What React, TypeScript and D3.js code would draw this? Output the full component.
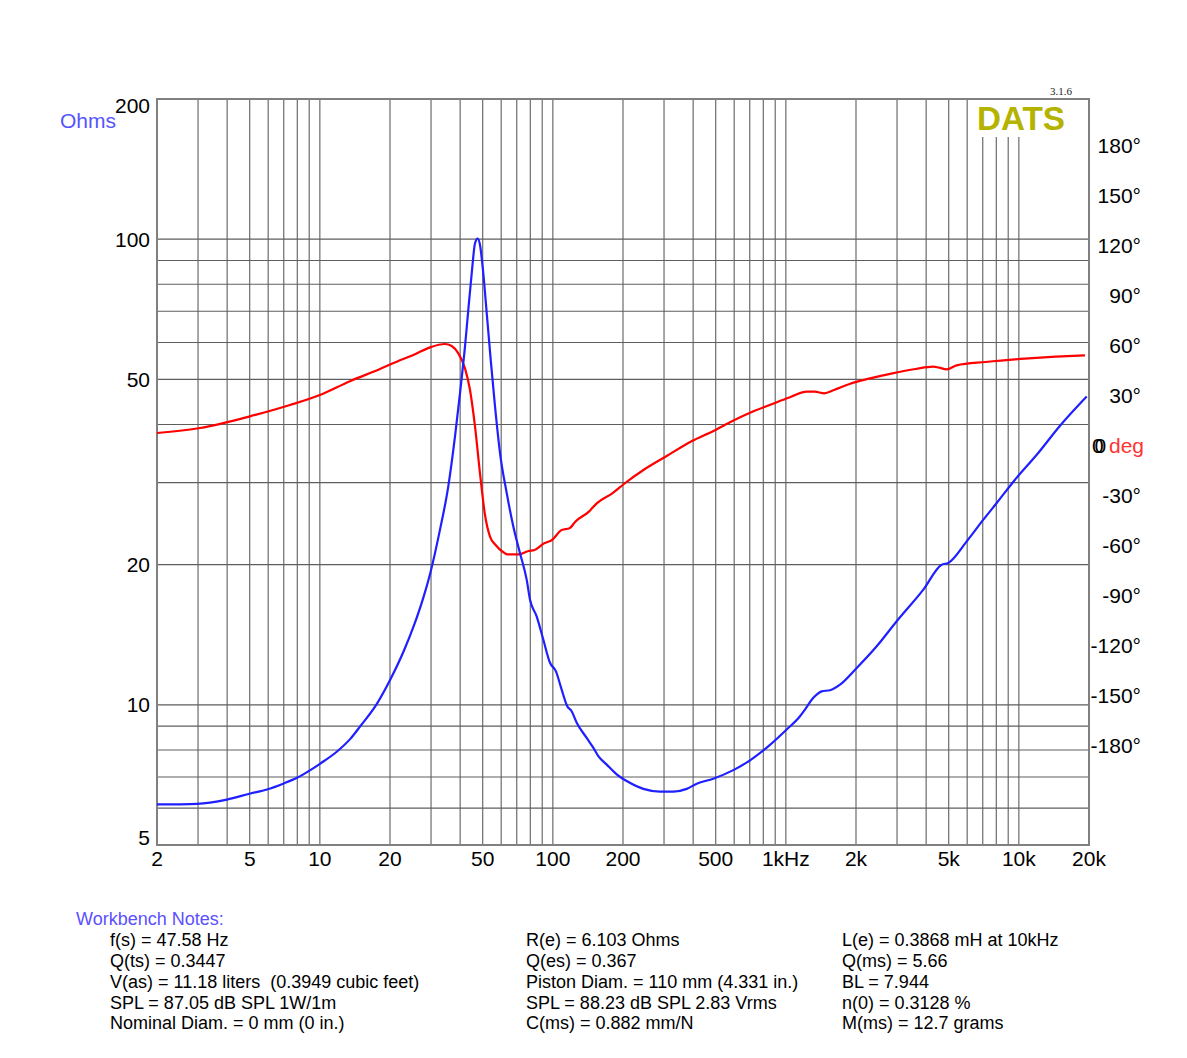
import React from 'react';
import * as d3 from 'd3';

// Impedance magnitude (Ohms) vs frequency (Hz)
const impFreq = [2, 2.97, 3.99, 5.03, 5.93, 7.0, 7.98, 9.1, 10.04, 11.85, 13.51, 14.92, 17.59, 20.06, 22.89, 25.27, 27.91, 29.79, 32.78, 35.58, 38.02, 39.95, 41.97, 43.36, 44.85, 46.34, 47.58, 48.67, 50.28, 52.02, 54.11, 56.46, 59.32, 63.38, 67.65, 72.25, 77.2, 79.76, 85.2, 90.97, 97.2, 103.1, 109.1, 115.3, 120.4, 126.6, 139.7, 149.1, 156.7, 170.3, 187.9, 207.5, 244.5, 288.4, 328.8, 375.4, 414.4, 488.1, 595, 701.8, 827.8, 1008, 1150, 1208, 1312, 1425, 1547, 1708, 2014, 2454, 2990, 3890, 4665, 4980, 5973, 7038, 8033, 9626, 11930, 15020, 19550];
const impOhms = [6.11, 6.13, 6.26, 6.45, 6.58, 6.78, 6.97, 7.24, 7.48, 7.94, 8.45, 9.0, 10.06, 11.33, 13.03, 14.75, 17.1, 19.2, 23.78, 29.45, 37.71, 46.72, 58.84, 70.5, 84.5, 98.0, 100.3, 97.2, 84.5, 69.4, 55.07, 43.73, 34.73, 28.5, 24.16, 21.19, 18.57, 16.83, 15.49, 13.81, 12.31, 11.8, 10.78, 9.93, 9.69, 9.15, 8.49, 8.09, 7.76, 7.44, 7.09, 6.86, 6.6, 6.51, 6.51, 6.6, 6.77, 6.94, 7.24, 7.6, 8.09, 8.85, 9.45, 9.77, 10.35, 10.69, 10.75, 11.05, 12.0, 13.36, 15.12, 17.68, 20.0, 20.17, 22.44, 24.98, 27.13, 30.44, 34.43, 39.76, 45.94];

// Impedance phase (degrees) vs frequency (Hz)
const phaseFreq = [2, 3.06, 5.01, 7.44, 10.0, 13.47, 18.12, 21.37, 25.18, 29.7, 34.44, 36.8, 39.29, 41.97, 44.1, 46.34, 48.67, 51.15, 53.74, 56.8, 61.1, 63.7, 71.5, 78.7, 83.4, 91.8, 99.2, 109.1, 117.9, 124.8, 142.8, 154.2, 179.9, 201.8, 244.7, 308.1, 395.6, 488.6, 592.6, 717.9, 904.5, 1054, 1230, 1329, 1462, 1609, 1877, 2274, 2866, 3609, 4290, 4543, 4906, 5406, 7207, 10584, 14406, 19220];
const phaseDeg = [7.2, 10.2, 17.2, 24, 30, 38.3, 45.6, 50, 54, 58.6, 60.6, 59.4, 55, 46, 33, 11, -17, -42, -55, -60, -64.2, -65.6, -65.6, -63.6, -63, -59, -57, -51, -50, -46, -40, -35, -29, -23.4, -15, -6.6, 2.4, 8.4, 14.6, 20, 25.4, 29, 32, 32, 31, 33, 36.6, 39.8, 43, 45.6, 47, 46.4, 45.4, 47.8, 49.8, 51.8, 53, 53.8];

const xTickValues = [2, 5, 10, 20, 50, 100, 200, 500, 1000, 2000, 5000, 10000, 20000];
const xTickLabels = ['2', '5', '10', '20', '50', '100', '200', '500', '1kHz', '2k', '5k', '10k', '20k'];
const ohmTicks = [200, 100, 50, 20, 10, 5];
const ohmGrid = [6, 7, 8, 9, 10, 20, 30, 40, 50, 60, 70, 80, 90, 100];
const phaseTicks = [180, 150, 120, 90, 60, 30, -30, -60, -90, -120, -150, -180];

const notesCol1 = ['f(s) = 47.58 Hz', 'Q(ts) = 0.3447', 'V(as) = 11.18 liters  (0.3949 cubic feet)', 'SPL = 87.05 dB SPL 1W/1m', 'Nominal Diam. = 0 mm (0 in.)'];
const notesCol2 = ['R(e) = 6.103 Ohms', 'Q(es) = 0.367', 'Piston Diam. = 110 mm (4.331 in.)', 'SPL = 88.23 dB SPL 2.83 Vrms', 'C(ms) = 0.882 mm/N'];
const notesCol3 = ['L(e) = 0.3868 mH at 10kHz', 'Q(ms) = 5.66', 'BL = 7.944', 'n(0) = 0.3128 %', 'M(ms) = 12.7 grams'];

const W = 1187;
const H = 1058;
const left = 157, right = 1089, top = 99, bottom = 845;
const FONT = '"Liberation Sans", Arial, sans-serif';

export default function App() {
  const x = d3.scaleLog().domain([2, 20000]).range([left, right]);
  const y = d3.scaleLog().domain([5, 200]).range([bottom, top]);
  const yp = d3.scaleLinear().domain([-240, 207.6]).range([bottom, top]);

  const vGrid: number[] = [];
  [1, 10, 100, 1000, 10000].forEach((dec) => {
    for (let m = 1; m <= 9; m++) {
      const v = dec * m;
      if (v > 2 && v < 20000) vGrid.push(v);
    }
  });

  const impData = impFreq.map((f, i) => [f, impOhms[i]] as [number, number]);
  const phData = phaseFreq.map((f, i) => [f, phaseDeg[i]] as [number, number]);

  const impLine = d3.line<[number, number]>()
    .x((d) => x(d[0]))
    .y((d) => y(d[1]))
    .curve(d3.curveMonotoneX);
  const phLine = d3.line<[number, number]>()
    .x((d) => x(d[0]))
    .y((d) => yp(d[1]))
    .curve(d3.curveMonotoneX);

  const noteRows = [945.7, 966.7, 987.5, 1008.5, 1029];

  return (
    <svg width={W} height={H} style={{ position: 'absolute', left: 0, top: 0, background: '#fff' }} fontFamily={FONT}>
      <rect x={0} y={0} width={W} height={H} fill="#fff" />
      {/* grid */}
      <g stroke="#5e5e5e" strokeWidth={1.1}>
        {vGrid.map((v) => (
          <line key={'v' + v} x1={x(v)} x2={x(v)} y1={top} y2={bottom} />
        ))}
        {ohmGrid.map((v) => (
          <line key={'h' + v} x1={left} x2={right} y1={y(v)} y2={y(v)} />
        ))}
      </g>
      {/* DATS logo box */}
      <rect x={972} y={100} width={98} height={37} fill="#fff" />
      <text x={977} y={130} fontSize={34} fontWeight="bold" fill="#b3b300" textLength={88} lengthAdjust="spacingAndGlyphs">DATS</text>
      <text x={1050} y={95} fontSize={11} fontFamily='"Liberation Serif", "DejaVu Serif", serif' fill="#222">3.1.6</text>
      {/* border */}
      <rect x={left} y={top} width={right - left} height={bottom - top} fill="none" stroke="#808080" strokeWidth={2} />
      {/* curves */}
      <path d={phLine(phData) || ''} fill="none" stroke="#ff0000" strokeWidth={2.2} strokeLinejoin="round" />
      <path d={impLine(impData) || ''} fill="none" stroke="#1f1fff" strokeWidth={2.2} strokeLinejoin="round" />
      {/* left axis labels */}
      <g fontSize={21} fill="#000" textAnchor="end">
        {ohmTicks.map((v) => {
          let by = y(v) + 7.5;
          if (v === 200) by = 113;
          if (v === 5) by = 845;
          return (
            <text key={'yl' + v} x={150} y={by}>{v}</text>
          );
        })}
      </g>
      <text x={60} y={128} fontSize={21} fill="#5555ff">Ohms</text>
      {/* bottom axis labels */}
      <g fontSize={21} fill="#000" textAnchor="middle">
        {xTickValues.map((v, i) => (
          <text key={'xl' + v} x={x(v)} y={866}>{xTickLabels[i]}</text>
        ))}
      </g>
      {/* right axis labels */}
      <g fontSize={21} fill="#000" textAnchor="end">
        {phaseTicks.map((v) => (
          <text key={'pl' + v} x={1141} y={yp(v) + 7.5}>{v + '°'}</text>
        ))}
      </g>
      <text x={1092} y={yp(0) + 7.5} fontSize={21} fill="#000">0</text>
      <text x={1094.5} y={yp(0) + 7.5} fontSize={21} fill="#000">0</text>
      <text x={1109} y={yp(0) + 7.5} fontSize={21} fill="#ff3333">deg</text>
      {/* notes */}
      <text x={76} y={925} fontSize={18} fill="#5b4fff">Workbench Notes:</text>
      <g fontSize={18} fill="#000">
        {notesCol1.map((t, i) => (
          <text key={'n1' + i} x={110} y={noteRows[i]} style={{ whiteSpace: 'pre' }}>{t}</text>
        ))}
        {notesCol2.map((t, i) => (
          <text key={'n2' + i} x={526} y={noteRows[i]} style={{ whiteSpace: 'pre' }}>{t}</text>
        ))}
        {notesCol3.map((t, i) => (
          <text key={'n3' + i} x={842} y={noteRows[i]} style={{ whiteSpace: 'pre' }}>{t}</text>
        ))}
      </g>
    </svg>
  );
}
